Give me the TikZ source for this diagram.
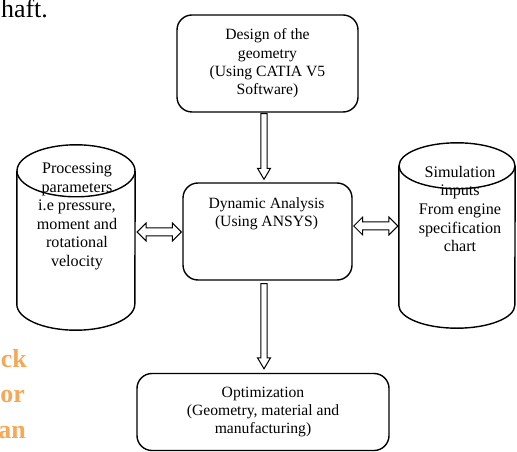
\documentclass[tikz,border=0pt]{standalone}
\usepackage{fontspec}
\setmainfont{Liberation Serif}
\usetikzlibrary{calc}
\definecolor{orangetxt}{HTML}{F5A858}
\newcommand{\boxfont}{\fontsize{15.7}{18.3}\selectfont}
\newcommand{\cylfont}{\fontsize{16.2}{18.6}\selectfont}
% single hollow arrow: start, tip, half shaft, half head, head length
\newcommand{\onearrow}[5]{%
  \coordinate (hb) at ($(#2)!#5!(#1)$);
  \draw[arrowline] ($(#1)!#3!90:(#2)$) -- ($(hb)!#3!90:(#2)$) -- ($(hb)!#4!90:(#2)$) -- (#2)
    -- ($(hb)!#4!-90:(#2)$) -- ($(hb)!#3!-90:(#2)$) -- ($(#1)!#3!-90:(#2)$) -- cycle;}
% double hollow arrow
\newcommand{\twoarrow}[5]{%
  \coordinate (ha) at ($(#1)!#5!(#2)$);
  \coordinate (hb) at ($(#2)!#5!(#1)$);
  \draw[arrowline] (#1) -- ($(ha)!#4!90:(#2)$) -- ($(ha)!#3!90:(#2)$) -- ($(hb)!#3!90:(#2)$)
    -- ($(hb)!#4!90:(#2)$) -- (#2) -- ($(hb)!#4!-90:(#2)$) -- ($(hb)!#3!-90:(#2)$)
    -- ($(ha)!#3!-90:(#2)$) -- ($(ha)!#4!-90:(#2)$) -- cycle;}
% cylinder outline around a named frame node: name, x radius, y radius
\newcommand{\cylout}[3]{%
  \draw[cylline] ([yshift=-#3]#1.north west) -- ([yshift=#3]#1.south west)
    arc[start angle=180,end angle=360,x radius=#2,y radius=#3] -- ([yshift=-#3]#1.north east);
  \draw[cylline] ([yshift=-#3]#1.north) ellipse[x radius=#2,y radius=#3];}
\tikzset{
  box/.style={draw, rounded corners=15bp, line width=1.4bp, align=center, font=\boxfont, inner sep=0pt},
  txt/.style={align=center, font=\boxfont, inner sep=0pt},
  cyltxt/.style={align=center, font=\cylfont, inner sep=0pt},
  frame/.style={draw=none, inner sep=0pt},
  cylline/.style={line width=1.4bp},
  arrowline/.style={draw, fill=white, line width=1bp, line join=miter},
  clipped/.style={font=\fontsize{26}{26}\selectfont, inner sep=0pt, anchor=base east},
  orangeword/.style={font=\fontsize{26}{26}\selectfont\bfseries, text=orangetxt, inner sep=0pt, anchor=base east}
}
\begin{document}
\begin{tikzpicture}[x=1bp,y=-1bp]
\useasboundingbox (0,0) rectangle (517,452);
\fill[white] (0,0) rectangle (517,452);
% cut-off page text
\node[clipped] (haft) at (48,18) {haft.};
\node[orangeword] (w1) at (27,367) {ck};
\node[orangeword] (w2) at (25,402) {or};
\node[orangeword] (w3) at (26,438) {an};
% boxes
\node[box, minimum width=181bp, minimum height=97bp] (top) at (267.5,63.5)
  {Design of the\\geometry\\(Using CATIA V5\\Software)};
\node[box, minimum width=169bp, minimum height=97bp] (mid) at (267.5,231.5) {};
\node[txt] (midtxt) at (266.5,214) {Dynamic Analysis\\(Using ANSYS)};
\node[box, minimum width=252bp, minimum height=77bp] (bot) at (263,412)
  {Optimization\\(Geometry, material and\\manufacturing)};
% cylinders
\node[frame, minimum width=118bp, minimum height=185bp] (lcyl) at (76,237.5) {};
\cylout{lcyl}{59bp}{26bp}
\node[cyltxt] (ltxt) at (77,216.5)
  {Processing\\parameters\\i.e pressure,\\moment and\\rotational\\velocity};
\node[frame, minimum width=116bp, minimum height=185bp] (rcyl) at (457,235.5) {};
\cylout{rcyl}{58bp}{23bp}
\node[cyltxt] (rtxt) at (460,209)
  {Simulation\\inputs\\From engine\\specification\\chart};
% connectors
\coordinate (ta1) at ([xshift=-3.5bp,yshift=-1bp]top.south);
\coordinate (ta2) at ([xshift=-3.5bp,yshift=3bp]mid.north);
\onearrow{ta1}{ta2}{3.2bp}{6.5bp}{11bp}
\coordinate (ba1) at ([xshift=-3.5bp,yshift=-3bp]mid.south);
\coordinate (ba2) at ([xshift=1bp,yshift=4bp]bot.north);
\onearrow{ba1}{ba2}{3.2bp}{6.5bp}{11bp}
\coordinate (la1) at ([xshift=2bp]lcyl.east |- 0,232);
\coordinate (la2) at ([xshift=-1bp]mid.west |- la1);
\twoarrow{la1}{la2}{4bp}{9bp}{9bp}
\coordinate (ra1) at ([xshift=1bp]mid.east |- 0,226);
\coordinate (ra2) at ([xshift=-1bp]rcyl.west |- ra1);
\twoarrow{ra1}{ra2}{4bp}{9bp}{9bp}
\end{tikzpicture}
\end{document}
